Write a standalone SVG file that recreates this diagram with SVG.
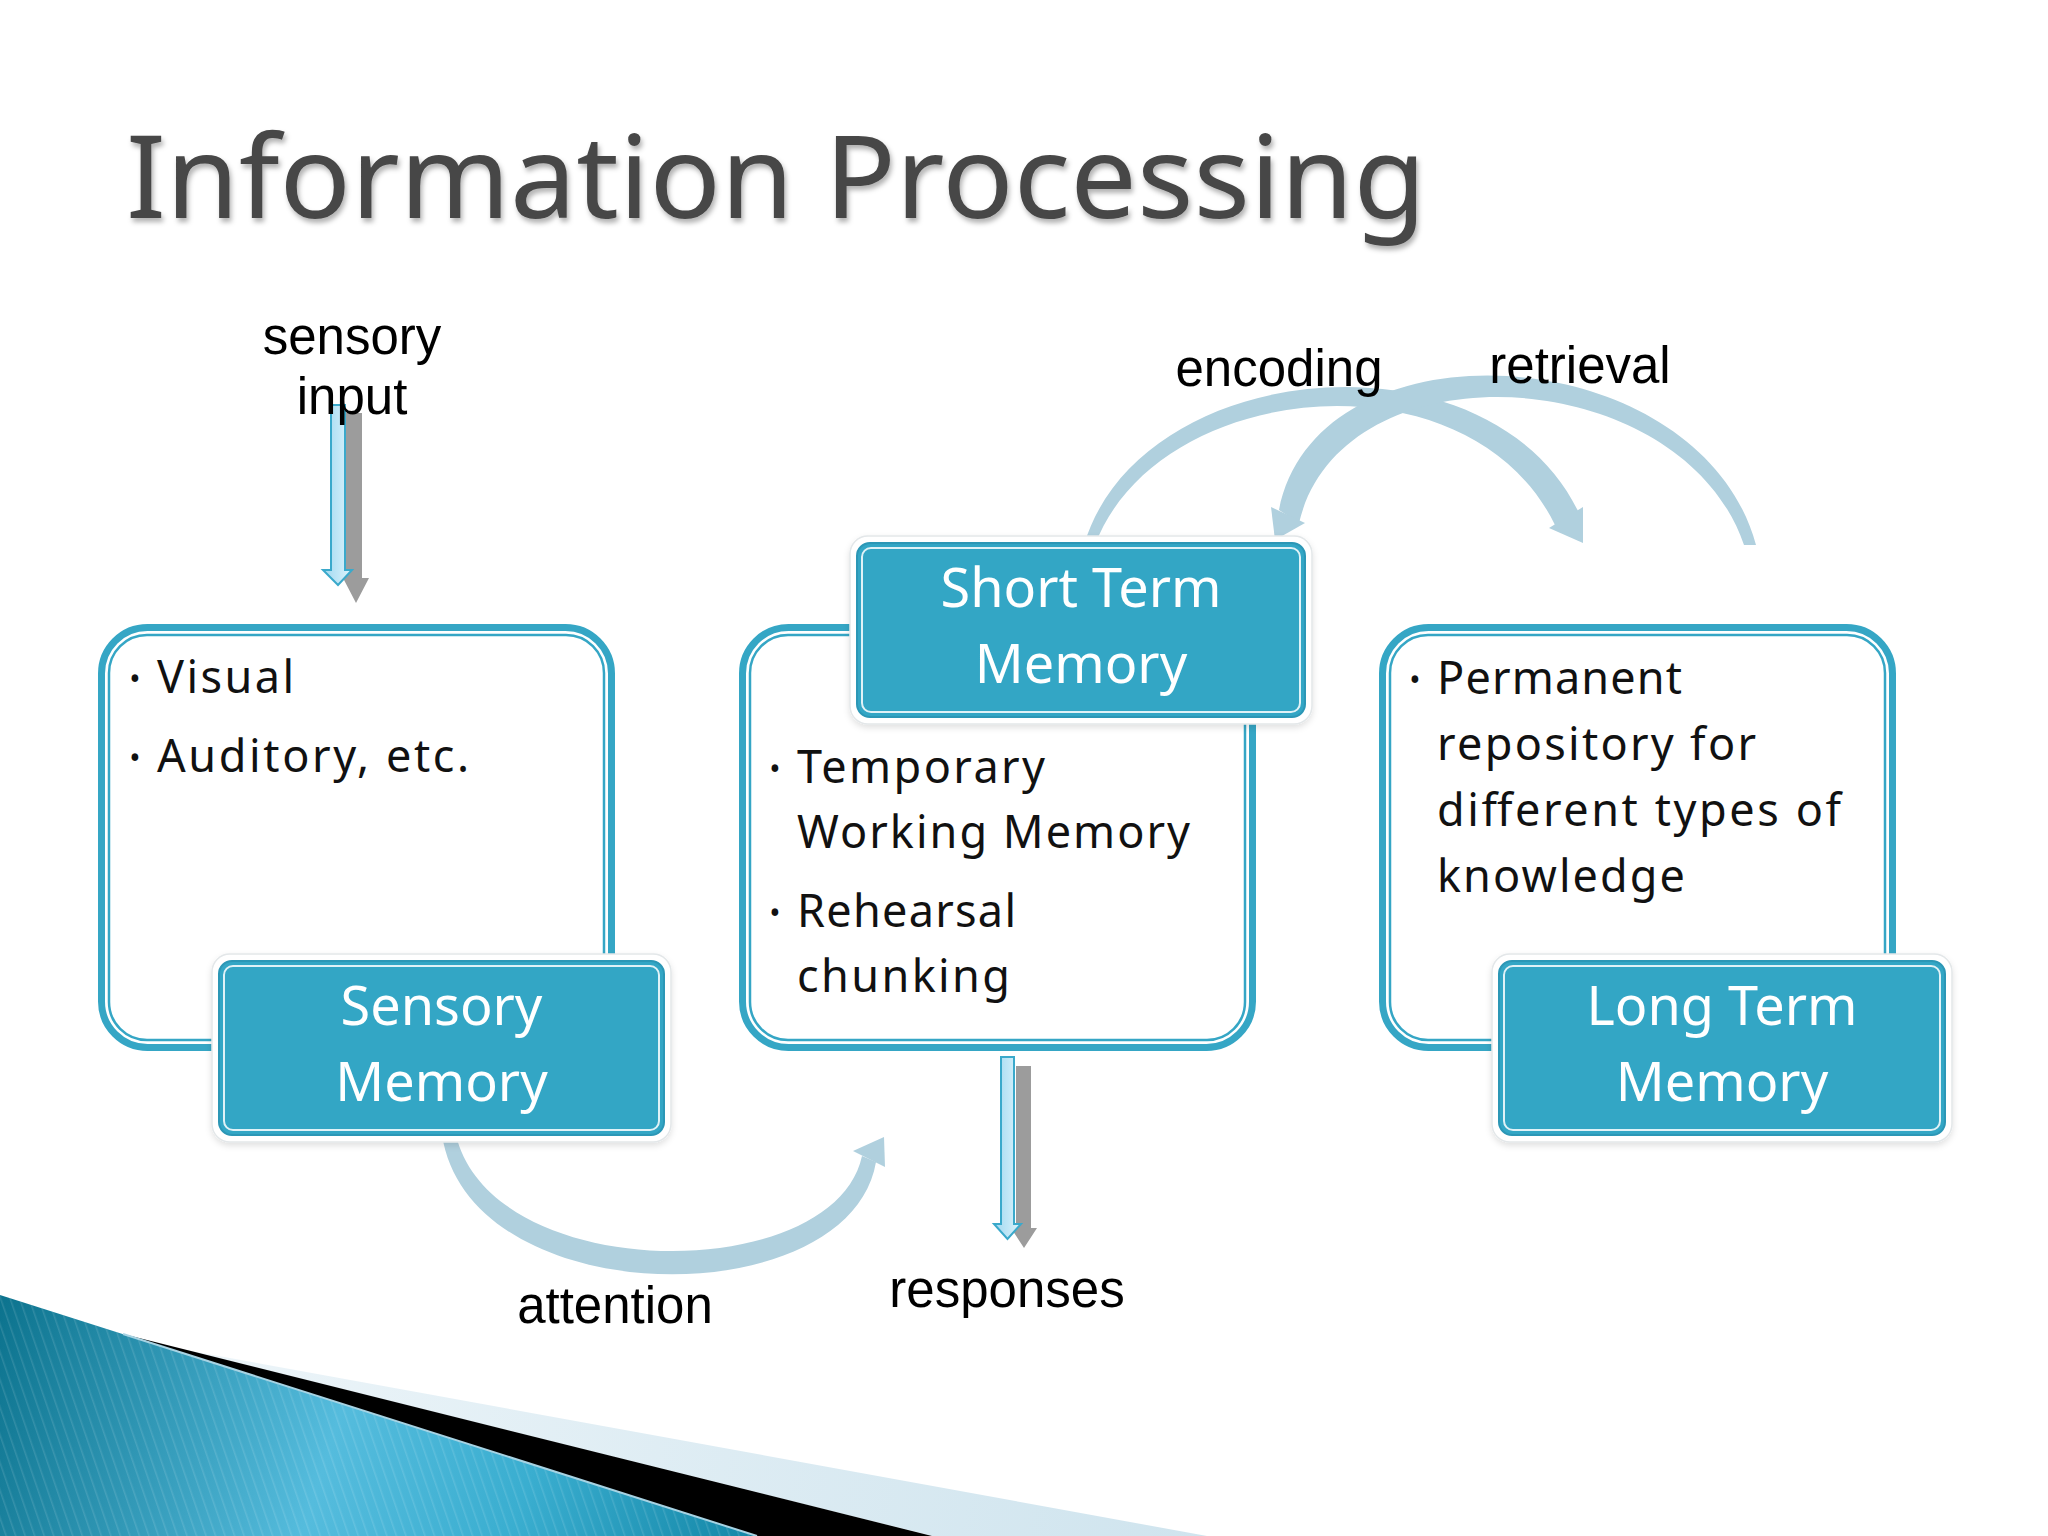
<svg xmlns="http://www.w3.org/2000/svg" width="2048" height="1536" viewBox="0 0 2048 1536">
<defs>
<style>
.title{font-family:"Noto Sans","Open Sans","DejaVu Sans",sans-serif;font-size:116px;fill:#474747}
.body{font-family:"Noto Sans","Open Sans","DejaVu Sans",sans-serif;font-size:45px;fill:#111}
.bul{font-family:"Noto Sans","DejaVu Sans",sans-serif;font-size:30px;fill:#111;text-anchor:middle}
.lab{font-family:"Noto Sans","Open Sans","DejaVu Sans",sans-serif;font-size:54px;fill:#ffffff;text-anchor:middle}
.cap{font-family:"Liberation Sans",Arial,sans-serif;font-size:51px;fill:#000;text-anchor:middle}
.outer{fill:#fff;stroke:#35a6c5;stroke-width:7}
.outerIn{fill:none;stroke:#35a6c5;stroke-width:2.5}
.halo{fill:#fff;stroke:#e3e7e9;stroke-width:1.5}
.lbox{fill:#33a6c5;stroke:#2c97b6;stroke-width:2}
.lin{fill:none;stroke:#fff;stroke-width:2;opacity:.85}
.arc{fill:#b0d0de}
.sh{fill:#9c9c9c}
.bl{fill:url(#blueArrow);stroke:#3aa9cb;stroke-width:2}
</style>
<filter id="ts" x="-5%" y="-20%" width="110%" height="150%">
<feDropShadow dx="2" dy="4" stdDeviation="2.5" flood-color="#000" flood-opacity="0.3"/>
</filter>
<filter id="glow" x="-10%" y="-10%" width="120%" height="130%">
<feDropShadow dx="0" dy="3" stdDeviation="3" flood-color="#000" flood-opacity="0.12"/>
</filter>
<linearGradient id="blueArrow" x1="0" y1="0" x2="1" y2="0">
<stop offset="0" stop-color="#9fd8f0"/>
<stop offset="1" stop-color="#def4fc"/>
</linearGradient>
<linearGradient id="teal" gradientUnits="userSpaceOnUse" x1="0" y1="1300" x2="760" y2="1536">
<stop offset="0" stop-color="#0c738e"/>
<stop offset="0.45" stop-color="#55bcdd"/>
<stop offset="0.7" stop-color="#3aaed0"/>
<stop offset="1" stop-color="#1386a6"/>
</linearGradient>
<linearGradient id="pale" gradientUnits="userSpaceOnUse" x1="180" y1="1349" x2="1207" y2="1536">
<stop offset="0" stop-color="#edf5f9"/>
<stop offset="1" stop-color="#cfe4ee"/>
</linearGradient>
<pattern id="stripes" width="9" height="40" patternUnits="userSpaceOnUse" patternTransform="rotate(-19)">
<rect x="0" y="0" width="1.5" height="40" fill="#ffffff" opacity="0.12"/>
</pattern>
</defs>

<rect x="0" y="0" width="2048" height="1536" fill="#ffffff"/>

<g id="decoration">
<polygon points="180,1349 1207,1536 932,1536" fill="url(#pale)"/>
<polygon points="123,1334 932,1536 757,1536" fill="#000"/>
<polygon points="0,1295 757,1536 0,1536" fill="url(#teal)"/>
<polygon points="0,1295 757,1536 0,1536" fill="url(#stripes)"/>
<line x1="123" y1="1334" x2="757" y2="1536" stroke="#a7d3e3" stroke-width="2"/>
</g>

<g id="title">
<text class="title" x="126" y="218" textLength="1300" lengthAdjust="spacingAndGlyphs" filter="url(#ts)">Information Processing</text>
</g>

<g id="connectors">
<!-- sensory input arrow -->
<polygon class="sh" points="346,413 362,413 362,578 369,578 356,603 343,578 346,578"/>
<polygon class="bl" points="331,405 345,405 345,570 352,570 338,585 323,570 331,570"/>
<!-- responses arrow -->
<polygon class="sh" points="1016,1066 1031,1066 1031,1228 1037,1228 1024,1248 1011,1228 1016,1228"/>
<polygon class="bl" points="1001,1057 1014,1057 1014,1224 1021,1224 1007.5,1239 994,1224 1001,1224"/>
<!-- attention arc -->
<path class="arc" d="M442,1135 C470,1316 850,1316 876,1162 L862,1156 C834,1286 492,1286 456,1135 Z"/>
<polygon class="arc" points="853,1151 884,1137 885,1167"/>
<!-- encoding arc -->
<path class="arc" d="M1084,545 C1140,356 1490,326 1579,513 L1555,525 C1470,350 1158,378 1095,545 Z"/>
<polygon class="arc" points="1583,507 1549,528 1583,543"/>
<!-- retrieval arc -->
<path class="arc" d="M1756,545 C1700,338 1318,314 1279,510 L1299,523 C1342,342 1682,362 1744,545 Z"/>
<polygon class="arc" points="1271,507 1305,523 1275,540"/>
</g>

<g id="sensory-memory">
<rect class="outer" x="101.5" y="627.5" width="510" height="420" rx="46"/>
<rect class="outerIn" x="109" y="635" width="495" height="405" rx="38"/>
<text class="bul" x="135" y="690">•</text>
<text class="body" x="157" y="693" textLength="137" lengthAdjust="spacing">Visual</text>
<text class="bul" x="135" y="769">•</text>
<text class="body" x="157" y="772" textLength="312" lengthAdjust="spacing">Auditory, etc.</text>
<rect class="halo" x="212" y="954" width="459" height="188" rx="18" filter="url(#glow)"/>
<rect class="lbox" x="219" y="961" width="445" height="174" rx="13"/>
<rect class="lin" x="224" y="966" width="435" height="164" rx="9"/>
<text class="lab" x="441.5" y="1025">Sensory</text>
<text class="lab" x="441.5" y="1101">Memory</text>
</g>

<g id="short-term-memory">
<rect class="outer" x="742.5" y="627.5" width="510" height="420" rx="46"/>
<rect class="outerIn" x="750" y="635" width="495" height="405" rx="38"/>
<text class="bul" x="775" y="780">•</text>
<text class="body" x="797" y="783" textLength="248" lengthAdjust="spacing">Temporary</text>
<text class="body" x="797" y="848" textLength="393" lengthAdjust="spacing">Working Memory</text>
<text class="bul" x="775" y="924">•</text>
<text class="body" x="797" y="927" textLength="219" lengthAdjust="spacing">Rehearsal</text>
<text class="body" x="797" y="992" textLength="213" lengthAdjust="spacing">chunking</text>
<rect class="halo" x="850" y="536" width="462" height="188" rx="18" filter="url(#glow)"/>
<rect class="lbox" x="857" y="543" width="448" height="174" rx="13"/>
<rect class="lin" x="862" y="548" width="438" height="164" rx="9"/>
<text class="lab" x="1081" y="607">Short Term</text>
<text class="lab" x="1081" y="683">Memory</text>
</g>

<g id="long-term-memory">
<rect class="outer" x="1382.5" y="627.5" width="510" height="420" rx="46"/>
<rect class="outerIn" x="1390" y="635" width="495" height="405" rx="38"/>
<text class="bul" x="1415" y="691">•</text>
<text class="body" x="1437" y="694" textLength="245" lengthAdjust="spacing">Permanent</text>
<text class="body" x="1437" y="760" textLength="319" lengthAdjust="spacing">repository for</text>
<text class="body" x="1437" y="826" textLength="404" lengthAdjust="spacing">different types of</text>
<text class="body" x="1437" y="892" textLength="248" lengthAdjust="spacing">knowledge</text>
<rect class="halo" x="1492" y="954" width="460" height="188" rx="18" filter="url(#glow)"/>
<rect class="lbox" x="1499" y="961" width="446" height="174" rx="13"/>
<rect class="lin" x="1504" y="966" width="436" height="164" rx="9"/>
<text class="lab" x="1722" y="1025">Long Term</text>
<text class="lab" x="1722" y="1101">Memory</text>
</g>

<g id="labels">
<text class="cap" x="352" y="354">sensory</text>
<text class="cap" x="352" y="414">input</text>
<text class="cap" x="1279" y="386">encoding</text>
<text class="cap" x="1580" y="383">retrieval</text>
<text class="cap" x="615" y="1323">attention</text>
<text class="cap" x="1007" y="1307">responses</text>
</g>
</svg>
